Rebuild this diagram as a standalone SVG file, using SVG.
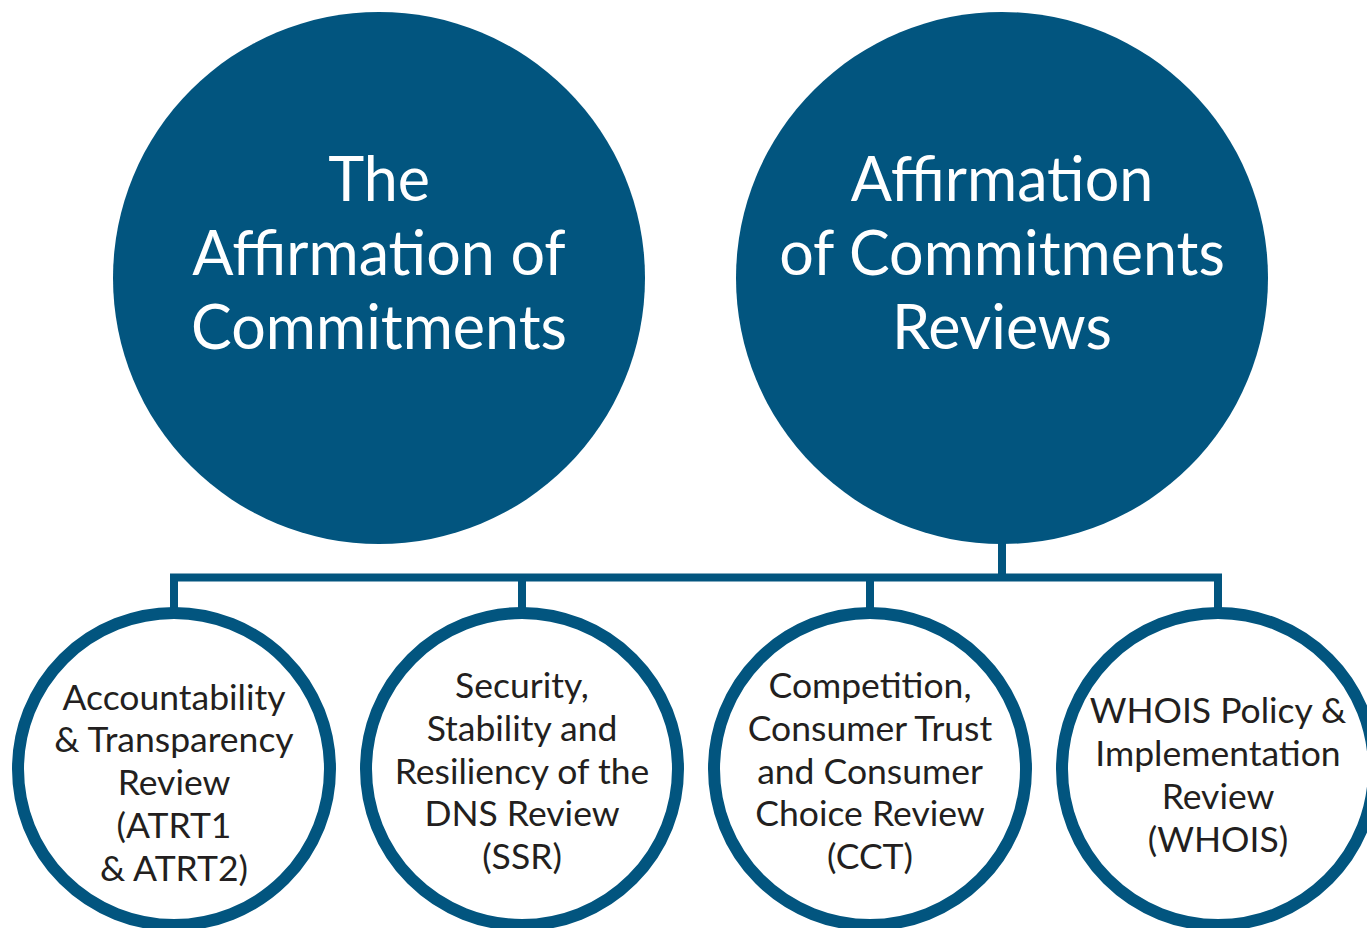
<svg xmlns="http://www.w3.org/2000/svg" width="1367" height="928" viewBox="0 0 1367 928">
<style>
.big{fill:#02557f}
.small{fill:#ffffff;stroke:#02557f;stroke-width:12}
.conn{fill:none;stroke:#02557f;stroke-width:8;stroke-linejoin:miter;stroke-linecap:butt}
.bt{font-family:Lato,"Source Sans Pro","Liberation Sans",sans-serif;font-size:61px;fill:#ffffff;text-anchor:middle}
.st{font-family:Lato,"Source Sans Pro","Liberation Sans",sans-serif;font-size:35.5px;fill:#231f20;text-anchor:middle}
</style>
<rect width="1367" height="928" fill="#ffffff"/>
<g id="connectors">
<path class="conn" d="M1002,540 V577.5"/>
<path class="conn" d="M174,608 V577.5 H1218 V608"/>
<path class="conn" d="M522,608 V577.5 M870,608 V577.5"/>
</g>
<g id="node-aoc">
<circle class="big" cx="379" cy="278" r="266"/>
<text class="bt" x="379" y="201">The</text>
<text class="bt" x="379" y="275">Affirmation of</text>
<text class="bt" x="379" y="349">Commitments</text>
</g>
<g id="node-aoc-reviews">
<circle class="big" cx="1002" cy="278" r="266"/>
<text class="bt" x="1002" y="201">Affirmation</text>
<text class="bt" x="1002" y="275">of Commitments</text>
<text class="bt" x="1002" y="349">Reviews</text>
</g>
<g id="node-atrt">
<circle class="small" cx="174" cy="769" r="156"/>
<text class="st" x="174" y="710">Accountability</text>
<text class="st" x="174" y="752">&amp; Transparency</text>
<text class="st" x="174" y="795">Review</text>
<text class="st" x="174" y="838">(ATRT1</text>
<text class="st" x="174" y="881">&amp; ATRT2)</text>
</g>
<g id="node-ssr">
<circle class="small" cx="522" cy="769" r="156"/>
<text class="st" x="522" y="698">Security,</text>
<text class="st" x="522" y="741">Stability and</text>
<text class="st" x="522" y="784">Resiliency of the</text>
<text class="st" x="522" y="826">DNS Review</text>
<text class="st" x="522" y="869">(SSR)</text>
</g>
<g id="node-cct">
<circle class="small" cx="870" cy="769" r="156"/>
<text class="st" x="870" y="698">Competition,</text>
<text class="st" x="870" y="741">Consumer Trust</text>
<text class="st" x="870" y="784">and Consumer</text>
<text class="st" x="870" y="826">Choice Review</text>
<text class="st" x="870" y="869">(CCT)</text>
</g>
<g id="node-whois">
<circle class="small" cx="1218" cy="769" r="156"/>
<text class="st" x="1218" y="723">WHOIS Policy &amp;</text>
<text class="st" x="1218" y="766">Implementation</text>
<text class="st" x="1218" y="809">Review</text>
<text class="st" x="1218" y="852">(WHOIS)</text>
</g>
</svg>
